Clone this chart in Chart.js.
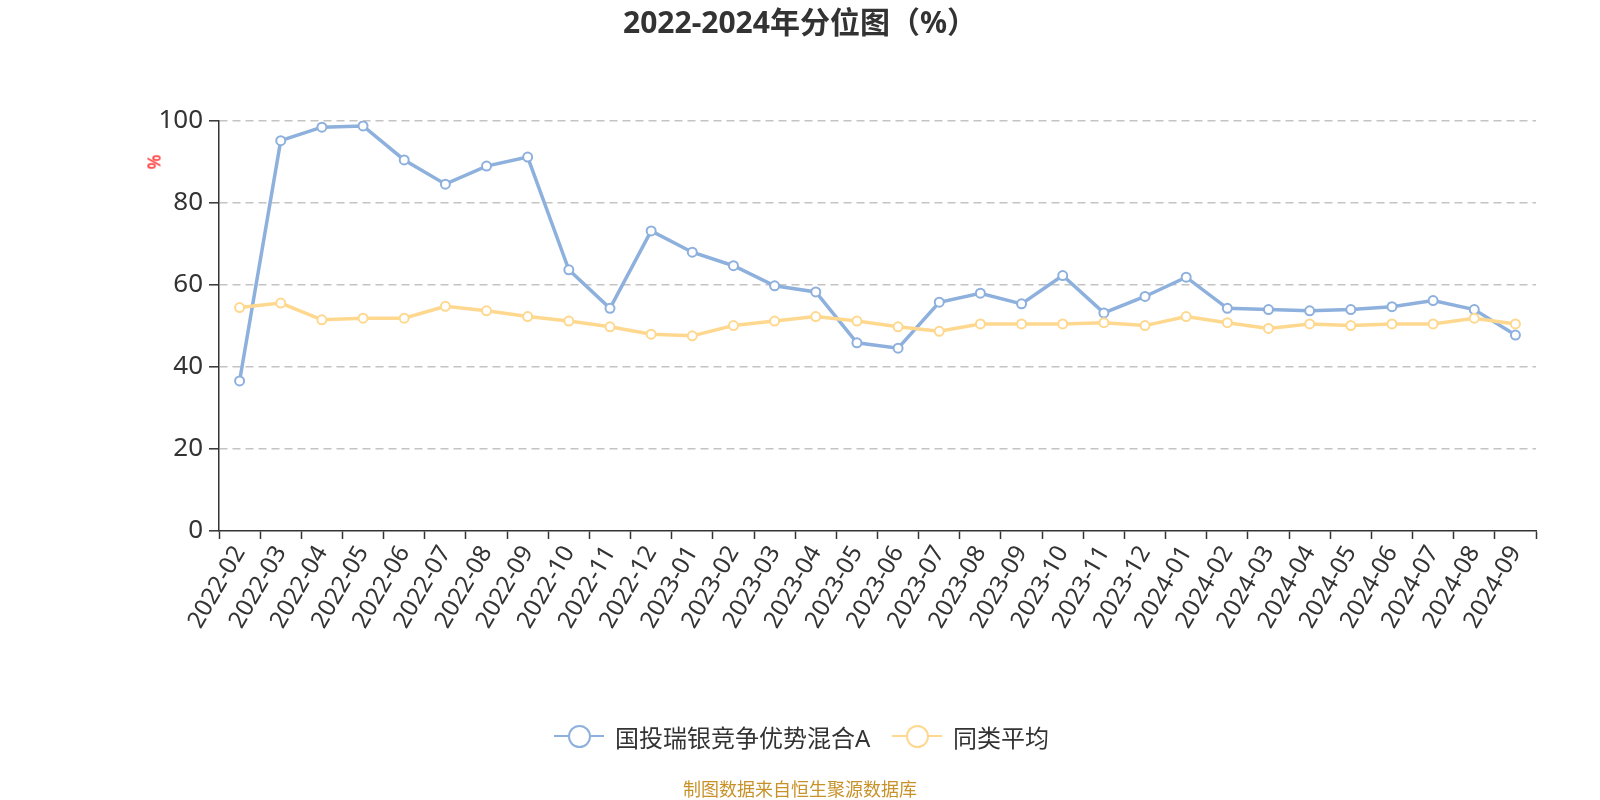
<!DOCTYPE html>
<html>
<head>
<meta charset="utf-8">
<script src="https://cdn.jsdelivr.net/npm/chart.js@4/dist/chart.umd.min.js"></script>
<style>
  html, body { margin: 0; padding: 0; background: #fff; }
  #wrap { position: relative; width: 1600px; height: 800px; overflow: hidden;
          font-family: "Noto Sans", "Noto Sans CJK SC", sans-serif; }
  #c { position: absolute; left: 0; top: 0; }
  .abs { position: absolute; white-space: nowrap; }
  #title { left: 0; width: 1600px; top: 1px; text-align: center; font-size: 30px; font-weight: bold; color: #333; line-height: 42px; }
  #ytitle { left: 146px; top: 151px; font-size: 18px; color: #ff0000; transform: rotate(-90deg); transform-origin: center; line-height: 22px; }
  #footer { left: 0; width: 1600px; top: 777px; text-align: center; font-size: 18px; color: #c8922a; line-height: 24px; }
  .leg { position: absolute; top: 720px; height: 32px; display: flex; align-items: center; font-size: 24px; color: #333; }
  .leg .icon { position: relative; width: 50px; height: 32px; margin-right: 11px; }
  .leg .icon .ln { position: absolute; left: 0; top: 15px; width: 50px; height: 2px; }
  .leg .icon .cr { position: absolute; left: 14px; top: 5px; width: 19px; height: 19px; border-radius: 50%; background: #fff; border-width: 2px; border-style: solid; }
</style>
</head>
<body>
<div id="wrap">
  <canvas id="c" width="1600" height="800"></canvas>
  <div id="title" class="abs">2022-2024年分位图（%）</div>
  <div id="ytitle" class="abs">%</div>
  <div class="leg" id="leg1" style="left:554px;">
    <div class="icon"><div class="ln" style="background:#8DB0DD"></div><div class="cr" style="border-color:#8DB0DD"></div></div>
    <span>国投瑞银竞争优势混合A</span>
  </div>
  <div class="leg" id="leg2" style="left:892px;">
    <div class="icon"><div class="ln" style="background:#FFD88F"></div><div class="cr" style="border-color:#FFD88F"></div></div>
    <span>同类平均</span>
  </div>
  <div id="footer" class="abs">制图数据来自恒生聚源数据库</div>
</div>
<script>
const categories = [
  "2022-02","2022-03","2022-04","2022-05","2022-06","2022-07","2022-08","2022-09","2022-10","2022-11","2022-12",
  "2023-01","2023-02","2023-03","2023-04","2023-05","2023-06","2023-07","2023-08","2023-09","2023-10","2023-11","2023-12",
  "2024-01","2024-02","2024-03","2024-04","2024-05","2024-06","2024-07","2024-08","2024-09"
];
const fundName = "国投瑞银竞争优势混合A";
const fundValues = [
  36.6, 95.2, 98.5, 98.8, 90.5, 84.6, 89.0, 91.2, 63.7, 54.3, 73.2,
  68.0, 64.7, 59.8, 58.3, 45.9, 44.6, 55.8, 58.0, 55.4, 62.3, 53.2, 57.2,
  61.9, 54.3, 54.0, 53.7, 54.0, 54.7, 56.2, 54.0, 47.8
];
const avgName = "同类平均";
const avgValues = [
  54.5, 55.6, 51.5, 51.9, 51.9, 54.8, 53.7, 52.3, 51.2, 49.8, 48.0,
  47.6, 50.1, 51.2, 52.3, 51.2, 49.8, 48.7, 50.5, 50.5, 50.5, 50.8, 50.1,
  52.3, 50.8, 49.4, 50.5, 50.1, 50.5, 50.5, 51.9, 50.5
];
const yTicks = [0, 20, 40, 60, 80, 100];

const BLUE = "#8DB0DD";
const ORANGE = "#FFD88F";
const FONT = '"Noto Sans", "Noto Sans CJK SC", sans-serif';

new Chart(document.getElementById("c"), {
  type: "line",
  data: {
    labels: categories,
    datasets: [
      { label: fundName, data: fundValues, borderColor: BLUE, backgroundColor: "#fff",
        pointBackgroundColor: "#fff", pointBorderColor: BLUE, borderWidth: 3.5,
        pointRadius: 4.5, pointBorderWidth: 2, tension: 0, order: 1 },
      { label: avgName, data: avgValues, borderColor: ORANGE, backgroundColor: "#fff",
        pointBackgroundColor: "#fff", pointBorderColor: ORANGE, borderWidth: 3.5,
        pointRadius: 4.5, pointBorderWidth: 2, tension: 0, order: 0 }
    ]
  },
  options: {
    responsive: false,
    animation: false,
    devicePixelRatio: 1,
    layout: { padding: { left: 0, right: 64, top: 121, bottom: 149 } },
    plugins: { legend: { display: false }, title: { display: false }, tooltip: { enabled: false } },
    scales: {
      x: {
        type: "category",
        offset: true,
        afterFit: (s) => { s.height = 120; },
        grid: { drawOnChartArea: false, offset: true, drawTicks: true, tickLength: 8,
                tickColor: "#333", tickWidth: 1.5, color: "#333" },
        border: { display: true, color: "#333", width: 1.5 },
        ticks: { autoSkip: false, maxRotation: 60, minRotation: 60, padding: 2,
                 color: "#333", font: { family: FONT, size: 24 } }
      },
      y: {
        min: 0, max: 100,
        afterFit: (s) => { s.width = 219; },
        afterBuildTicks: (s) => { s.ticks = yTicks.map(v => ({ value: v })); },
        grid: { color: (ctx) => (ctx.tick && ctx.tick.value === 0) ? "rgba(0,0,0,0)" : "#c4c4c4",
                lineWidth: 1.6, drawTicks: true, tickLength: 10, tickColor: "#333", tickWidth: 1.5,
                tickBorderDash: [] },
        border: { display: true, color: "#333", width: 1.5, dash: [8, 5] },
        ticks: { padding: 6, color: "#333", font: { family: FONT, size: 26 } }
      }
    }
  }
});
</script>
</body>
</html>
